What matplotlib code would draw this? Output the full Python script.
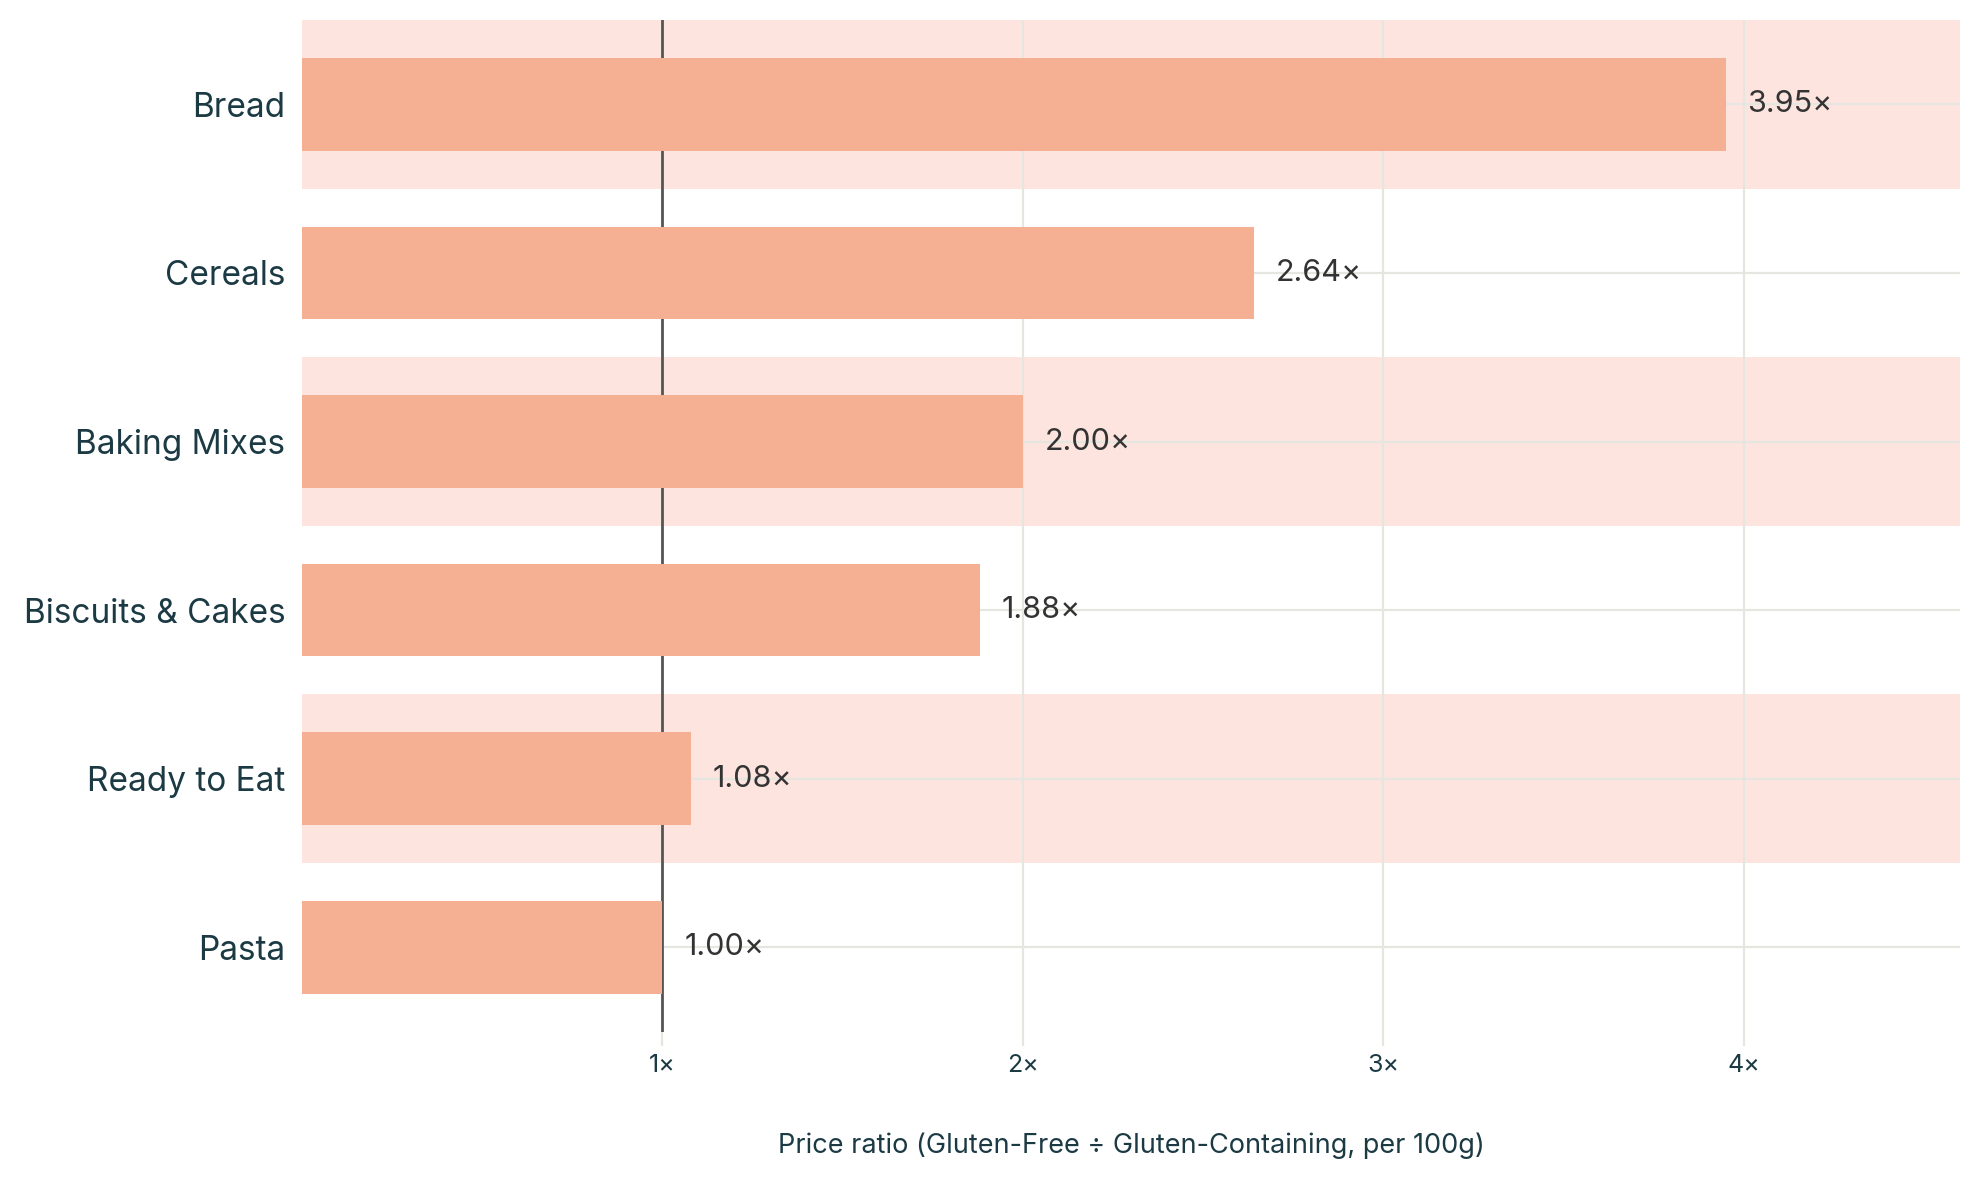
import matplotlib
matplotlib.use('Agg')
import matplotlib.pyplot as plt

plt.rcParams['font.family'] = ['Inter', 'DejaVu Sans']

categories = ['Bread', 'Cereals', 'Baking Mixes', 'Biscuits & Cakes', 'Ready to Eat', 'Pasta']
ratios = [3.95, 2.64, 2.00, 1.88, 1.08, 1.00]
x_ticks = [1, 2, 3, 4]
x_tick_labels = ['1×', '2×', '3×', '4×']

text_col = '#1c3a44'
grid_col = '#e6e6e0'

fig = plt.figure(figsize=(19.8, 11.83), dpi=100)
ax = fig.add_axes([0.1525, 0.128, 0.8375, 0.855])

y = list(range(len(categories)))

# alternating band behind every other row
for i in y:
    if i % 2 == 0:
        ax.axhspan(i - 0.5, i + 0.5, color='#fde4df', lw=0, zorder=0)

for xv in x_ticks:
    ax.axvline(xv, color=grid_col, lw=1.6, zorder=1)
for i in y:
    ax.axhline(i, color=grid_col, lw=1.6, zorder=1)

ax.axvline(1, color='#555555', lw=2, zorder=2)

ax.barh(y, ratios, height=0.55, color='#f5b093', zorder=3)

for i, v in enumerate(ratios):
    ax.text(v + 0.06, i, f'{v:.2f}×', va='center', ha='left',
            fontsize=22, color='#333333', zorder=4)

ax.set_xlim(0, 4.6)
ax.set_ylim(len(categories) - 0.5, -0.5)
ax.set_yticks(y)
ax.set_yticklabels(categories, fontsize=24, color=text_col)
ax.set_xticks(x_ticks)
ax.set_xticklabels(x_tick_labels, fontsize=18, color=text_col)
ax.tick_params(axis='y', length=0, pad=12)
ax.tick_params(axis='x', length=10, width=1.6, color=grid_col, pad=6)
for s in ax.spines.values():
    s.set_visible(False)

ax.set_xlabel('Price ratio (Gluten-Free ÷ Gluten-Containing, per 100g)',
              fontsize=19.5, color=text_col, labelpad=40)

fig.savefig('out.png', dpi=100, facecolor='white')
